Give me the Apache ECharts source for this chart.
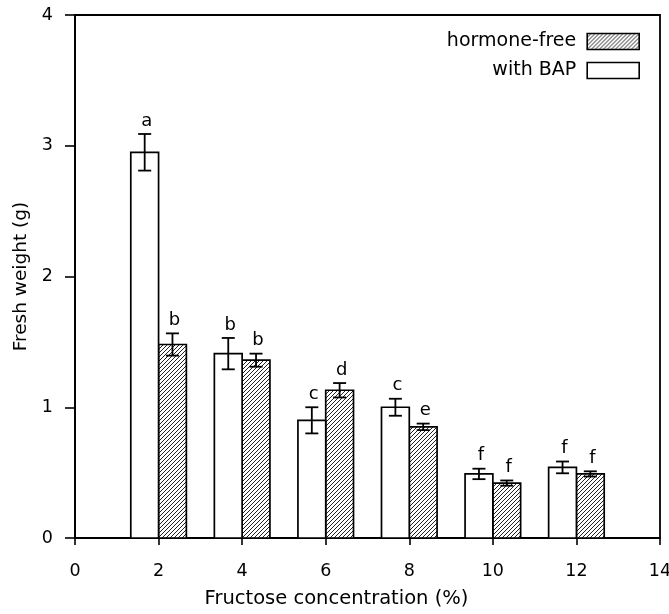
<!DOCTYPE html>
<html>
<head>
<meta charset="utf-8">
<script src="https://cdn.jsdelivr.net/npm/echarts@6/dist/echarts.min.js"></script>
<style>
html,body{margin:0;padding:0;background:#fff;}
#chart{width:669px;height:614px;}
</style>
</head>
<body>
<div id="chart"></div>
<script>
// ---- data ----
const concentrations = [2, 4, 6, 8, 10, 12];
const withBAP = [2.95, 1.41, 0.90, 1.00, 0.49, 0.54];
const withBAPErr = [0.14, 0.12, 0.10, 0.065, 0.04, 0.045];
const withBAPLetters = ['a', 'b', 'c', 'c', 'f', 'f'];
const hormoneFree = [1.48, 1.36, 1.13, 0.85, 0.42, 0.49];
const hormoneFreeErr = [0.085, 0.05, 0.055, 0.025, 0.02, 0.02];
const hormoneFreeLetters = ['b', 'b', 'd', 'e', 'f', 'f'];
const seriesNames = ['hormone-free', 'with BAP'];

// ---- hatch pattern ----
function makeHatch() {
  const c = document.createElement('canvas');
  const s = 4;
  c.width = s; c.height = s;
  const g = c.getContext('2d');
  g.fillStyle = '#fff';
  g.fillRect(0, 0, s, s);
  g.strokeStyle = '#222';
  g.lineWidth = 1;
  g.beginPath();
  g.moveTo(-1, s + 1); g.lineTo(s + 1, -1);
  g.moveTo(-1, 1); g.lineTo(1, -1);
  g.moveTo(s - 1, s + 1); g.lineTo(s + 1, s - 1);
  g.stroke();
  return { image: c, repeat: 'repeat' };
}
const hatch = makeHatch();
const FONT = '"DejaVu Sans", "Liberation Sans", Arial, sans-serif';
const BAR_W = 0.665;

function makeRender(offStart, letters, fill) {
  return function (params, api) {
    const x = api.value(0), y = api.value(1), e = api.value(2);
    const p0 = api.coord([x + offStart, y]);
    const p1 = api.coord([x + offStart + BAR_W, 0]);
    const cx = (p0[0] + p1[0]) / 2;
    const top = api.coord([x, y + e])[1];
    const bot = api.coord([x, y - e])[1];
    const cap = 6.5;
    const ls = { stroke: '#000', lineWidth: 1.8 };
    return {
      type: 'group',
      children: [
        { type: 'rect', shape: { x: p0[0], y: p0[1], width: p1[0] - p0[0], height: p1[1] - p0[1] },
          style: { fill: fill, stroke: '#000', lineWidth: 1.7 } },
        { type: 'line', shape: { x1: cx, y1: top, x2: cx, y2: bot }, style: ls },
        { type: 'line', shape: { x1: cx - cap, y1: top, x2: cx + cap, y2: top }, style: ls },
        { type: 'line', shape: { x1: cx - cap, y1: bot, x2: cx + cap, y2: bot }, style: ls },
        { type: 'text', x: cx + 2, y: top - 4,
          style: { text: letters[params.dataIndex], fill: '#000', font: '18px ' + FONT,
                   align: 'center', verticalAlign: 'bottom' } }
      ]
    };
  };
}

const chart = echarts.init(document.getElementById('chart'), null, { renderer: 'canvas' });
chart.setOption({
  animation: false,
  backgroundColor: '#fff',
  grid: { left: 75, right: 9, top: 15, bottom: 76, containLabel: false, outerBoundsMode: 'none',
          show: true, borderColor: '#000', borderWidth: 1.8, backgroundColor: 'transparent' },
  legend: {
    orient: 'vertical', right: 24, top: 27, align: 'right',
    itemWidth: 52, itemHeight: 16, itemGap: 10,
    textStyle: { fontFamily: FONT, fontSize: 19, color: '#000', padding: [0, 6, 0, 0] },
    data: [
      { name: seriesNames[0], icon: 'rect', itemStyle: { color: hatch, borderColor: '#000', borderWidth: 1.6 } },
      { name: seriesNames[1], icon: 'rect', itemStyle: { color: '#fff', borderColor: '#000', borderWidth: 1.6 } }
    ]
  },
  xAxis: {
    type: 'value', min: 0, max: 14, interval: 2,
    name: 'Fructose concentration (%)', nameLocation: 'middle', nameGap: 51,
    nameTextStyle: { fontFamily: FONT, fontSize: 19.5, color: '#000', padding: [0, 62, 0, 0] },
    axisLine: { lineStyle: { color: '#000', width: 1.8 } },
    axisTick: { length: 7, lineStyle: { color: '#000', width: 1.6 } },
    axisLabel: { margin: 24, fontFamily: FONT, fontSize: 17.5, color: '#000' },
    splitLine: { show: false }
  },
  yAxis: {
    type: 'value', min: 0, max: 4, interval: 1,
    name: 'Fresh weight (g)', nameLocation: 'middle', nameGap: 39,
    nameTextStyle: { fontFamily: FONT, fontSize: 18.5, color: '#000' },
    axisLine: { show: true, lineStyle: { color: '#000', width: 1.8 } },
    axisTick: { show: true, length: 10, lineStyle: { color: '#000', width: 1.6 } },
    axisLabel: { margin: 22, fontFamily: FONT, fontSize: 17.5, color: '#000' },
    splitLine: { show: false }
  },
  series: [
    {
      name: seriesNames[0], type: 'custom', z: 3,
      itemStyle: { color: hatch, borderColor: '#000' },
      renderItem: makeRender(0, hormoneFreeLetters, hatch),
      data: concentrations.map((c, i) => [c, hormoneFree[i], hormoneFreeErr[i]])
    },
    {
      name: seriesNames[1], type: 'custom', z: 3,
      itemStyle: { color: '#fff', borderColor: '#000' },
      renderItem: makeRender(-BAR_W, withBAPLetters, '#fff'),
      data: concentrations.map((c, i) => [c, withBAP[i], withBAPErr[i]])
    }
  ]
});
</script>
</body>
</html>
